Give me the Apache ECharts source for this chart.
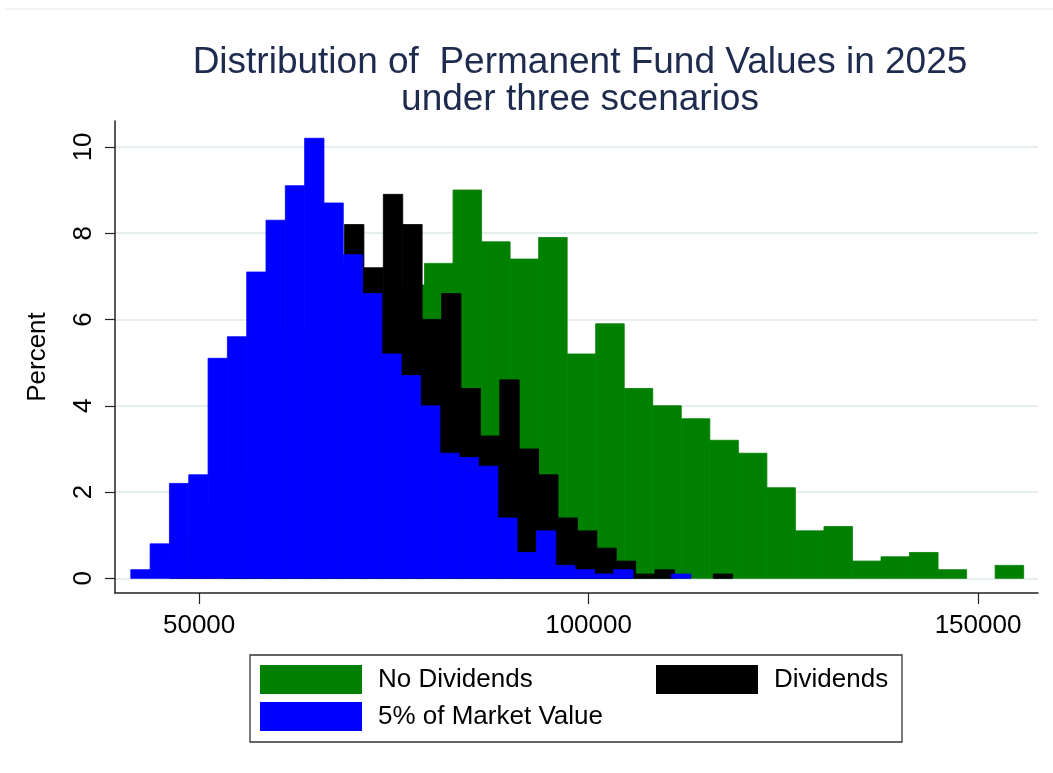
<!DOCTYPE html>
<html>
<head>
<meta charset="utf-8">
<title>Distribution of Permanent Fund Values in 2025</title>
<script src="https://cdn.jsdelivr.net/npm/echarts@6/dist/echarts.min.js"></script>
<style>
  html, body { margin: 0; padding: 0; background: #fff; }
  #chart { width: 1053px; height: 773px; }
</style>
</head>
<body>
<div id="chart"></div>
<script>
// histogram bins: first lower edge, bin width, percent per bin
// (leading bins of the green and black series sit behind the later series, estimated)
var noDivStart = 53296
var noDivWidth = 3663
var noDivPct = [0.3, 1.0, 2.2, 3.6, 5.0, 6.0, 6.8,
  7.3, 9.0, 7.8, 7.4, 7.9, 5.2, 5.9, 4.4, 4.0, 3.7, 3.2, 2.9, 2.1, 1.1, 1.2, 0.4, 0.5, 0.6, 0.2, 0, 0.3]

var divStart = 46237
var divWidth = 2492
var divPct = [0.4, 0.9, 1.6, 2.4, 3.5, 4.6, 5.8, 6.8, 7.2,
  8.2, 7.2, 8.9, 8.2, 6.0, 6.6, 4.4, 3.3, 4.6, 3.0, 2.4, 1.4, 1.1, 0.7, 0.4, 0.1, 0.2, 0, 0, 0.1]

var mktStart = 41228
var mktWidth = 2480
var mktPct = [0.2, 0.8, 2.2, 2.4, 5.1, 5.6, 7.1, 8.3, 9.1, 10.2, 8.7, 7.5, 6.6, 5.2, 4.7, 4.0,
  2.9, 2.8, 2.6, 1.4, 0.6, 1.1, 0.3, 0.2, 0.1, 0.2, 0, 0, 0.1]

var xTicks = [50000, 100000, 150000]
var yTicks = [0, 2, 4, 6, 8, 10]

var seriesNames = ['No Dividends', 'Dividends', '5% of Market Value']
var seriesColors = ['#008000', '#000000', '#0000ff']

function toBins(start, width, pct) {
  return pct.map(function (v, i) {
    return [start + i * width, start + (i + 1) * width, v]
  })
}

function renderBin(params, api) {
  if (!api.value(2)) return null
  var top = api.coord([api.value(0), api.value(2)])
  var base = api.coord([api.value(1), 0])
  var color = api.visual('color')
  return {
    type: 'rect',
    shape: { x: top[0], y: top[1], width: base[0] - top[0], height: base[1] - top[1] },
    style: { fill: color, stroke: color, lineWidth: 0.8 }
  }
}

var binSets = [
  toBins(noDivStart, noDivWidth, noDivPct),
  toBins(divStart, divWidth, divPct),
  toBins(mktStart, mktWidth, mktPct)
]

var font = 'Liberation Sans, Arial, sans-serif'

function legendFor(name, left, top) {
  return {
    data: [name],
    left: left,
    top: top,
    padding: 0,
    icon: 'rect',
    itemWidth: 102,
    itemHeight: 29,
    selectedMode: false,
    textStyle: { fontFamily: font, fontSize: 26, color: '#000', padding: [0, 0, 0, 11] }
  }
}

var chart = echarts.init(document.getElementById('chart'), null, { renderer: 'canvas' })

chart.setOption({
  animation: false,
  backgroundColor: '#fff',
  title: {
    text: 'Distribution of  Permanent Fund Values in 2025\nunder three scenarios',
    left: 580,
    top: 44,
    padding: 0,
    textAlign: 'center',
    textStyle: { fontFamily: font, fontSize: 37, fontWeight: 'normal', color: '#1e2b4e', lineHeight: 37 }
  },
  legend: [
    legendFor(seriesNames[0], 260, 665),
    legendFor(seriesNames[1], 656, 665),
    legendFor(seriesNames[2], 260, 702)
  ],
  graphic: [
    { type: 'rect', shape: { x: 250, y: 655, width: 652, height: 87 }, style: { fill: 'none', stroke: '#333', lineWidth: 1.3 } },
    { type: 'line', shape: { x1: 5, y1: 9, x2: 1053, y2: 9 }, style: { stroke: '#e6e6e6', lineWidth: 1 } }
  ],
  grid: { left: 115, right: 15, top: 121, bottom: 180, containLabel: false },
  xAxis: {
    type: 'value',
    min: 39200,
    max: 157700,
    axisLine: { onZero: false, lineStyle: { color: '#222', width: 1.5 } },
    axisTick: { customValues: xTicks, length: 11, lineStyle: { color: '#222', width: 1.2 } },
    axisLabel: {
      customValues: xTicks,
      margin: 20,
      fontFamily: font,
      fontSize: 26,
      color: '#000',
      formatter: function (v) { return String(v) }
    },
    splitLine: { show: false }
  },
  yAxis: {
    type: 'value',
    min: -0.34,
    max: 10.6,
    name: 'Percent',
    nameLocation: 'middle',
    nameGap: 64,
    nameTextStyle: { fontFamily: font, fontSize: 26, color: '#000' },
    axisLine: { show: true, lineStyle: { color: '#222', width: 1.5 } },
    axisTick: { show: true, customValues: yTicks, length: 10, lineStyle: { color: '#222', width: 1.2 } },
    axisLabel: { customValues: yTicks, rotate: 90, margin: 18, fontFamily: font, fontSize: 26, color: '#000' },
    splitLine: { show: true, lineStyle: { color: '#e6eef0', width: 2 } }
  },
  series: binSets.map(function (bins, i) {
    return {
      name: seriesNames[i],
      type: 'custom',
      renderItem: renderBin,
      itemStyle: { color: seriesColors[i] },
      encode: { x: [0, 1], y: 2 },
      data: bins
    }
  })
})
</script>
</body>
</html>
